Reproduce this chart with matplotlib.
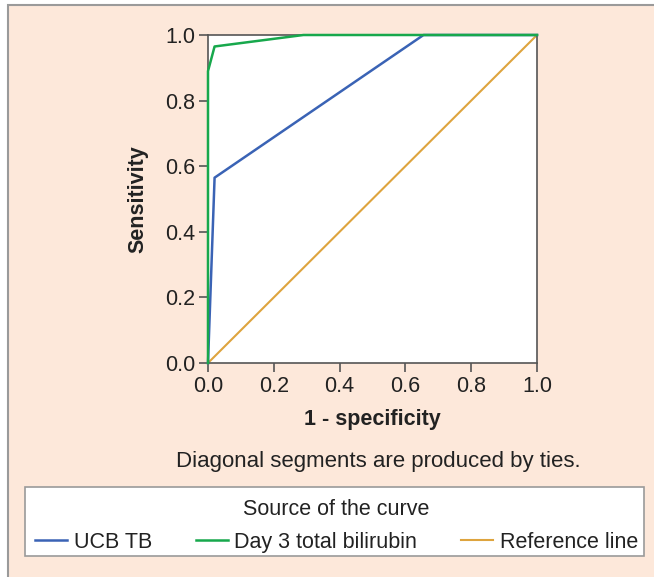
import matplotlib
matplotlib.use("Agg")
import matplotlib.pyplot as plt
from matplotlib.patches import Rectangle

plt.rcParams['font.family'] = ['Liberation Sans', 'DejaVu Sans']

# Data
ucb_x = [0.0, 0.02, 0.655, 1.0]
ucb_y = [0.0, 0.565, 1.0, 1.0]
day3_x = [0.0, 0.0, 0.02, 0.29, 1.0]
day3_y = [0.0, 0.89, 0.965, 1.0, 1.0]
ref_x = [0.0, 1.0]
ref_y = [0.0, 1.0]
ticks = [0.0, 0.2, 0.4, 0.6, 0.8, 1.0]
tick_labels = ["0.0", "0.2", "0.4", "0.6", "0.8", "1.0"]
series_names = ["UCB TB", "Day 3 total bilirubin", "Reference line"]

W, H = 654, 577
bg = "#fde8da"
txt = "#222222"
fig = plt.figure(figsize=(W / 100, H / 100), dpi=100, facecolor="white")

# peach panel with gray border on top and left
fig.patches.append(Rectangle((8 / W, -0.01), 1.0, 1 - 5 / H + 0.01, transform=fig.transFigure,
                             facecolor=bg, edgecolor="#9a9a9a", linewidth=1.5, zorder=-2))
# legend frame
fig.patches.append(Rectangle((25 / W, 1 - 556 / H), (644 - 25) / W, (556 - 487) / H,
                             transform=fig.transFigure, facecolor="white",
                             edgecolor="#9a9a9a", linewidth=1.2, zorder=-1))

ax = fig.add_axes([208 / W, 1 - 363 / H, (537 - 208) / W, (363 - 35) / H])
ax.set_facecolor("white")
l1, = ax.plot(ucb_x, ucb_y, color="#3a63b5", lw=1.8, clip_on=False, zorder=3)
l2, = ax.plot(day3_x, day3_y, color="#17a84c", lw=1.8, clip_on=False, zorder=4)
l3, = ax.plot(ref_x, ref_y, color="#dea43e", lw=1.5, clip_on=False, zorder=2)
ax.set_xlim(0, 1)
ax.set_ylim(0, 1)
ax.set_xticks(ticks)
ax.set_xticklabels(tick_labels)
ax.set_yticks(ticks)
ax.set_yticklabels(tick_labels)
for s in ax.spines.values():
    s.set_color("#555555")
    s.set_linewidth(1.2)
ax.tick_params(direction="out", length=6.5, width=1.2, color="#555555",
               labelsize=15.5, labelcolor=txt, pad=2.5)
ax.set_xlabel("1 - specificity", fontsize=15.5, fontweight="bold", color=txt, labelpad=9)
ax.set_ylabel("Sensitivity", fontsize=15.5, fontweight="bold", color=txt, labelpad=12)

fig.text(378 / W, 1 - 462 / H, "Diagonal segments are produced by ties.",
         ha="center", va="center", fontsize=16, color=txt)

leg = fig.legend([l1, l2, l3], series_names, ncol=3, title="Source of the curve",
                 loc="upper left", bbox_to_anchor=(35 / W, 1 - 499 / H, (638 - 35) / W, 0.0001),
                 mode="expand", frameon=False, fontsize=15.5, title_fontsize=15.5,
                 handlelength=1.5, handletextpad=0.3, borderaxespad=0, borderpad=0,
                 labelspacing=0.55, columnspacing=1.0)
for t in leg.get_texts():
    t.set_color(txt)
leg.get_title().set_color(txt)

fig.savefig("out.png", dpi=100, facecolor=fig.get_facecolor())
